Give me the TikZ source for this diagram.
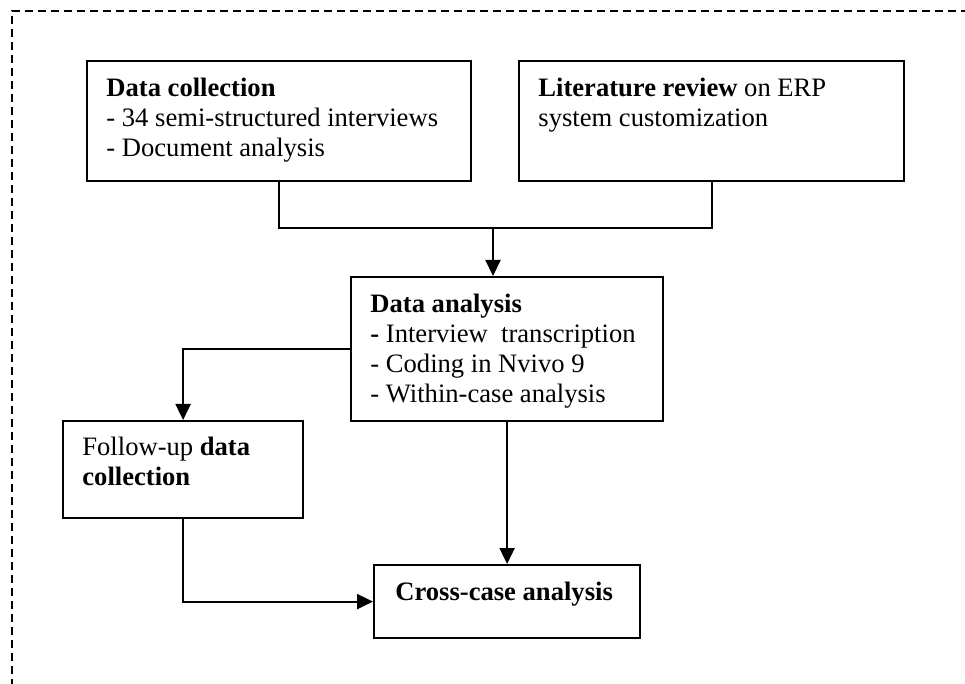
\documentclass[tikz,border=0pt]{standalone}
\usepackage{fontspec}
\setmainfont{Liberation Serif}
\usetikzlibrary{arrows.meta}
\begin{document}
\begin{tikzpicture}[x=0.5pt,y=-0.5pt,
  box/.style={draw, line width=1.1pt, inner sep=0pt, anchor=north west},
  lbl/.style={anchor=north west, inner sep=0pt, align=left, font=\fontsize{13.3}{15}\selectfont},
  conn/.style={line width=1.1pt},
  arr/.style={line width=1.1pt, -{Triangle[length=8pt,width=7.5pt]}},
  frame/.style={line width=1.3pt, dash pattern=on 4pt off 2.5pt}]
\useasboundingbox (0,0) rectangle (965,684);
\begin{scope}
\clip (0,0) rectangle (965,684);
\draw[frame] (12,700) -- (12,11) -- (1000,11);
\end{scope}
% boxes
\node[box, minimum width=192pt, minimum height=60pt] (b1) at (86,60) {};
\node[box, minimum width=192.5pt, minimum height=60pt] (b2) at (518,60) {};
\node[box, minimum width=156pt, minimum height=72pt] (b3) at (350,276) {};
\node[box, minimum width=120pt, minimum height=48.5pt] (b4) at (62,420) {};
\node[box, minimum width=133pt, minimum height=36.5pt] (b5) at (373,564) {};
% labels
\node[lbl] (t1) at (106,75) {\strut\textbf{Data collection}\\\strut- 34 semi-structured interviews\\\strut- Document analysis};
\node[lbl] (t2) at (538,75) {\strut\textbf{Literature review} on ERP\\\strut system customization};
\node[lbl] (t3) at (370,291) {\strut\textbf{Data analysis}\\\strut\textbf{-} Interview\ \ transcription\\\strut- Coding in Nvivo 9\\\strut- Within-case analysis};
\node[lbl] (t4) at (82,434) {\strut Follow-up \textbf{data}\\\strut\textbf{collection}};
\node[lbl] (t5) at (395,579) {\strut\textbf{Cross-case analysis}};
% connectors
\coordinate (j) at (493,228);
\draw[conn] (b1.south) |- (j) -| (b2.south);
\draw[arr] (j) -- (j |- b3.north);
\draw[arr] (b3.west) -| (b4.north);
\draw[arr] (b3.south) -- (b5.north);
\draw[arr] (b4.south) |- (b5.west);
\end{tikzpicture}
\end{document}
